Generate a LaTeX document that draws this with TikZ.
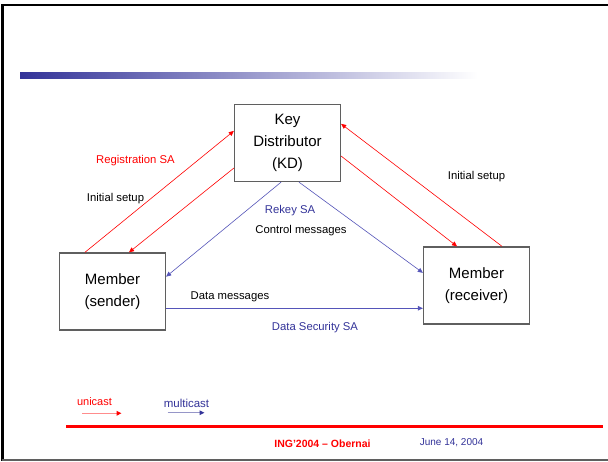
\documentclass[tikz,border=0pt]{standalone}
\usepackage{fontspec}
\setmainfont{Liberation Sans}
\usetikzlibrary{arrows.meta,calc}
\definecolor{navy}{RGB}{51,51,153}
\definecolor{linkblue}{RGB}{85,85,185}
\definecolor{boxgray}{RGB}{95,95,95}
\definecolor{pinkline}{RGB}{255,140,140}
\definecolor{lightnavy}{RGB}{150,150,200}
\tikzset{
  box/.style={draw=boxgray, line width=1.3pt, fill=white, minimum width=106pt,
    minimum height=77pt, inner sep=0pt, align=center,
    font=\fontsize{15}{22}\selectfont},
  lbl/.style={inner sep=0pt, font=\fontsize{11.3}{13}\selectfont},
  redarrow/.style={draw=red, line width=0.6pt, -{Triangle[length=5pt,width=4.5pt]}},
  bluearrow/.style={draw=linkblue, line width=0.6pt, -{Triangle[length=5pt,width=4.5pt]}},
}
\begin{document}
\begin{tikzpicture}[x=1pt,y=-1pt]
\useasboundingbox (0,0) rectangle (608,461);
\fill[white] (0,0) rectangle (608,461);
% frame
\draw[black, line width=2.5pt] (2,5) -- (608,5);
\draw[black, line width=2.5pt] (2.5,4) -- (2.5,461);
\draw[boxgray, line width=1.5pt] (2,460) -- (608,460);
% title bar gradient
\shade[left color=navy, right color=white] (20,72) rectangle (478,78);
% boxes
\node[box] (kd) at (287.5,143) {Key\\Distributor\\(KD)};
\node[box] (snd) at (112.5,291.5) {Member\\(sender)};
\node[box] (rcv) at (476.5,285.5) {Member\\(receiver)};
% anchor points
\coordinate (kdL1) at ($(kd.north west)!0.346!(kd.south west)$);
\coordinate (kdL2) at ($(kd.north west)!0.82!(kd.south west)$);
\coordinate (kdR1) at ($(kd.north east)!0.256!(kd.south east)$);
\coordinate (kdR2) at ($(kd.north east)!0.667!(kd.south east)$);
\coordinate (kdB1) at ($(kd.south west)!0.44!(kd.south east)$);
\coordinate (kdB2) at ($(kd.south west)!0.607!(kd.south east)$);
\coordinate (sT1) at ($(snd.north west)!0.243!(snd.north east)$);
\coordinate (sT2) at ($(snd.north west)!0.654!(snd.north east)$);
\coordinate (sR1) at ($(snd.north east)!0.31!(snd.south east)$);
\coordinate (sR2) at ($(snd.north east)!0.714!(snd.south east)$);
\coordinate (rT1) at ($(rcv.north west)!0.738!(rcv.north east)$);
\coordinate (rT2) at ($(rcv.north west)!0.318!(rcv.north east)$);
\coordinate (rL1) at ($(rcv.north west)!0.338!(rcv.south west)$);
\coordinate (rL2) at (rcv.west |- sR2);
% red connectors
\draw[redarrow] (sT1) -- (kdL1);
\draw[redarrow] (kdL2) -- (sT2);
\draw[redarrow] (rT1) -- (kdR1);
\draw[redarrow] (kdR2) -- (rT2);
% blue connectors
\draw[bluearrow] (kdB1) -- (sR1);
\draw[bluearrow] (kdB2) -- (rL1);
\draw[bluearrow] (sR2) -- (rL2);
% labels
\node[lbl, text=red] (regsa) at (135.5,161) {Registration SA};
\node[lbl] (init1) at (115.5,199) {Initial setup};
\node[lbl] (init2) at (476.5,176.5) {Initial setup};
\node[lbl, text=navy] (rekey) at (290,211) {Rekey SA};
\node[lbl] (ctrl) at (301,231) {Control messages};
\node[lbl] (datam) at (230,296.5) {Data messages};
\node[lbl, text=navy] (datasa) at (315,327.5) {Data Security SA};
% footer
\node[lbl, text=red, font=\fontsize{11}{13}\selectfont] (uni) at (94.5,401.5) {unicast};
\node[lbl, text=navy, font=\fontsize{11.5}{13}\selectfont] (multi) at (186.5,403) {multicast};
\coordinate (u1) at (82,413.3);
\coordinate (u2) at (121.5,413.3);
\coordinate (m1) at (167.5,412.7);
\coordinate (m2) at (204.5,412.7);
\draw[pinkline, line width=1.3pt, -{Triangle[length=5pt,width=4.5pt,color=red]}] (u1) -- (u2);
\draw[lightnavy, line width=1.3pt, -{Triangle[length=5pt,width=4.5pt,color=navy]}] (m1) -- (m2);
\draw[red, line width=2.5pt] (66,426.7) -- (603,426.7);
\node[inner sep=0pt, text=red, font=\fontsize{10.5}{12}\bfseries] (ing) at (322.5,443.5) {ING'2004 -- Obernai};
\node[inner sep=0pt, text=navy, font=\fontsize{10}{12}\selectfont] (date) at (451.5,442.5) {June 14, 2004};
\end{tikzpicture}
\end{document}
